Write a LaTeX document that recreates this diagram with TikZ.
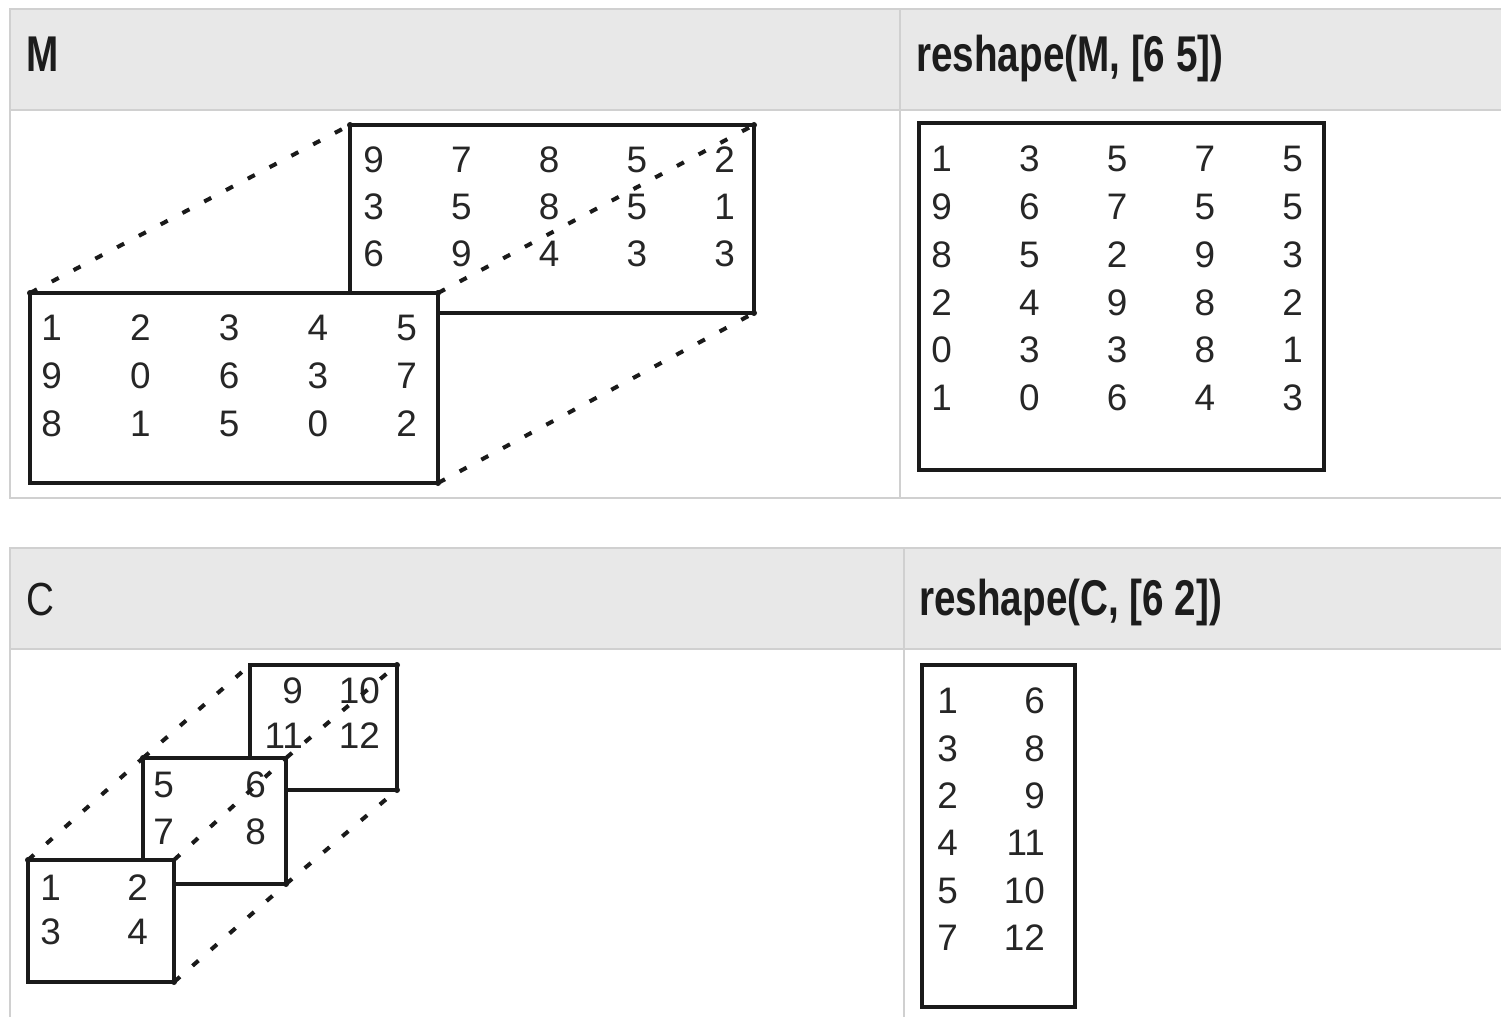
\documentclass[tikz,border=0pt]{standalone}
\usepackage{fontspec}
\setmainfont{Liberation Sans}
\usepackage{graphicx}
\definecolor{tabgray}{HTML}{D0D0D0}
\definecolor{hdrgray}{HTML}{E8E8E8}
\definecolor{boxblack}{HTML}{1A1A1A}
\definecolor{numgray}{HTML}{262626}
\definecolor{hdrtextcol}{HTML}{1C1C1C}
\pgfdeclarelayer{fg}
\pgfsetlayers{main,fg}
\newcommand\mynumgrid[6]{% name, east x of col 1, center y of row 1, dx, dy, rows
  \foreach \rowlist [count=\r] in {#6} {
    \foreach \v [count=\c] in \rowlist {
      \node[num] (#1-\r-\c) at ({#2+(\c-1)*#4},{#3+(\r-1)*#5}) {\v};
    }
  }
}
\begin{document}
\begin{tikzpicture}[x=0.02cm,y=-0.02cm,
  tabline/.style={draw=tabgray,line width=1.2pt},
  hdr/.style={fill=hdrgray},
  bsize/.style 2 args={minimum width=#1*0.02cm,minimum height=#2*0.02cm},
  box/.style={draw=boxblack,line width=2pt,fill=white,inner sep=0pt,outer sep=0pt},
  num/.style={inner sep=0pt,outer sep=0pt,anchor=east,font=\fontsize{21}{25}\selectfont,text=numgray},
  hdrtext/.style={inner sep=0pt,anchor=base west,text=hdrtextcol,font=\fontsize{22}{26}\selectfont},
  dots/.style={draw=boxblack,line width=2.3pt,dash pattern=on 4.5pt off 9.5pt},
  cdot/.style={fill=boxblack}
]
\useasboundingbox (0,0) rectangle (1501,1017);
\fill[white] (0,0) rectangle (1501,1017);

% ---------- table 1 ----------
\fill[hdr] (10,9) rectangle (1501,110);
\draw[tabline] (1501,9) -- (10,9) -- (10,498) -- (1501,498);
\draw[tabline] (10,110) -- (1501,110);
\draw[tabline] (900,9) -- (900,498);
\node[hdrtext] (hM) at (26,72) {\scalebox{1}[1.3]{\bfseries M}};
\node[hdrtext] (hRM) at (916,72) {\scalebox{1}[1.3]{\bfseries reshape(M, [6 5])}};

% ---------- table 2 ----------
\fill[hdr] (10,548) rectangle (1501,649);
\draw[tabline] (1501,548) -- (10,548) -- (10,1017);
\draw[tabline] (10,649) -- (1501,649);
\draw[tabline] (904,548) -- (904,1017);
\node[hdrtext] (hC) at (26,615) {\scalebox{1}[1.2]{C}};
\node[hdrtext] (hRC) at (919,615) {\scalebox{1}[1.3]{\bfseries reshape(C, [6 2])}};

% ---------- M : two pages ----------
\node[box,bsize={404}{188}] (MB) at (552,219) {};
\mynumgrid{mb}{384}{160}{87.75}{47}{{9,7,8,5,2},{3,5,8,5,1},{6,9,4,3,3}}
\begin{pgfonlayer}{fg}
\node[box,bsize={408}{190}] (MF) at (234,388) {};
\mynumgrid{mf}{62}{328}{88.75}{48}{{1,2,3,4,5},{9,0,6,3,7},{8,1,5,0,2}}
\end{pgfonlayer}
\draw[dots] (MF.north west) -- (MB.north west);
\draw[dots] (MF.north east) -- (MB.north east);
\draw[dots] (MF.south east) -- (MB.south east);
\foreach \a in {MB.north west,MB.north east,MB.south east}
  \fill[cdot] (\a) circle (3);
\begin{pgfonlayer}{fg}
\foreach \a in {MF.north west,MF.north east,MF.south east}
  \fill[cdot] (\a) circle (3);
\end{pgfonlayer}

% ---------- reshape(M,[6 5]) ----------
\node[box,bsize={405}{347}] (RM) at (1121.5,296.5) {};
\mynumgrid{rm}{952}{159}{87.75}{47.8}{{1,3,5,7,5},{9,6,7,5,5},{8,5,2,9,3},{2,4,9,8,2},{0,3,3,8,1},{1,0,6,4,3}}

% ---------- C : three pages ----------
\node[box,bsize={147}{125}] (CB) at (323.5,727.5) {};
\mynumgrid{cb}{303}{691}{77}{45}{{9,10},{11,12}}
\node[box,bsize={143}{126}] (CM) at (214.5,821) {};
\mynumgrid{cm}{174}{785}{92}{47}{{5,6},{7,8}}
\begin{pgfonlayer}{fg}
\node[box,bsize={146}{122}] (CF) at (101,921) {};
\mynumgrid{cf}{61}{888}{87}{44}{{1,2},{3,4}}
\end{pgfonlayer}
\draw[dots] (CF.north west) -- (CM.north west);
\draw[dots] (CM.north west) -- (CB.north west);
\draw[dots] (CF.north east) -- (CM.north east);
\draw[dots] (CM.north east) -- (CB.north east);
\draw[dots] (CF.south east) -- (CM.south east);
\draw[dots] (CM.south east) -- (CB.south east);
\foreach \a in {CB.north east,CB.south east,CM.north west,CM.south east}
  \fill[cdot] (\a) circle (3);
\begin{pgfonlayer}{fg}
\foreach \a in {CF.north west,CF.south east}
  \fill[cdot] (\a) circle (3);
\end{pgfonlayer}

% ---------- reshape(C,[6 2]) ----------
\node[box,bsize={153}{342}] (RC) at (998.5,836) {};
\mynumgrid{rc}{958}{701}{87}{47.4}{{1,6},{3,8},{2,9},{4,11},{5,10},{7,12}}
\end{tikzpicture}
\end{document}
